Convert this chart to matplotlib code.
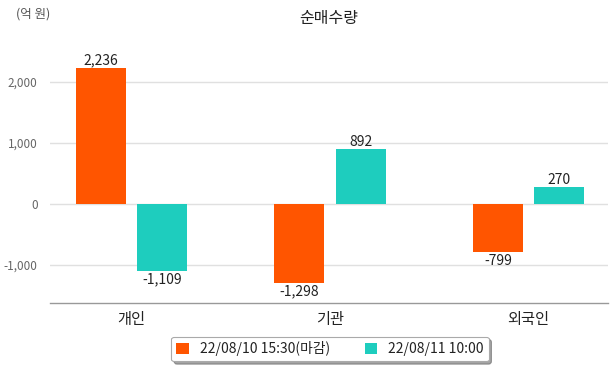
import matplotlib
matplotlib.use("Agg")
import matplotlib.pyplot as plt
import numpy as np

plt.rcParams['font.family'] = ['Noto Sans CJK KR', 'DejaVu Sans']

categories = ['개인', '기관', '외국인']
series_names = ['22/08/10 15:30(마감)', '22/08/11 10:00']
values_0810 = [2236, -1298, -799]
values_0811 = [-1109, 892, 270]
colors = ['#FF5500', '#1ECDBE']
yticks = [-1000, 0, 1000, 2000]

W, H = 615, 368
fig = plt.figure(figsize=(W/100, H/100), dpi=100)
left, right, top, bottom = 50, 608, 40, 303
ax = fig.add_axes([left/W, 1-bottom/H, (right-left)/W, (bottom-top)/H])

x = np.arange(len(categories))
bw = 0.252
off = 0.154
for vals, c, sign, name in [(values_0810, colors[0], -1, series_names[0]), (values_0811, colors[1], 1, series_names[1])]:
    ax.bar(x + sign*off, vals, width=bw, color=c, label=name, zorder=3)
    for xi, v in zip(x + sign*off, vals):
        ax.annotate(f'{v:,}', (xi, v), xytext=(0, 0 if v >= 0 else -1), textcoords='offset points',
                    ha='center', va='bottom' if v >= 0 else 'top', fontsize=10, color='#222222')

ax.set_xlim(-0.41, 2.40)
ax.set_ylim(-1630, 2690)
ax.set_yticks(yticks)
ax.set_yticklabels([f'{t:,}' for t in yticks], color='#666666', fontsize=8.5)
ax.set_xticks(x)
ax.set_xticklabels(categories, fontsize=11, color='#222222')
ax.tick_params(axis='both', length=0)
ax.tick_params(axis='y', pad=9)
ax.tick_params(axis='x', pad=6)
ax.grid(axis='y', color='#e0e0e0', linewidth=1, zorder=0)
for s in ['top', 'right', 'left']:
    ax.spines[s].set_visible(False)
ax.spines['bottom'].set_color('#999999')
ax.spines['bottom'].set_linewidth(1)

fig.text(329/W, 1-18/H, '순매수량', ha='center', va='center', fontsize=11.5, color='#222222')
fig.text(16/W, 1-14/H, '(억 원)', ha='left', va='center', fontsize=9, color='#555555')

leg = fig.legend(loc='center', bbox_to_anchor=(330/W, 1-349/H), ncol=2, fontsize=10,
                 frameon=True, fancybox=True, shadow=True, handlelength=0.9, handleheight=0.9,
                 columnspacing=2.5, handletextpad=0.8, borderpad=0.35, edgecolor='#aaaaaa')
leg.get_frame().set_linewidth(0.8)
for t in leg.get_texts():
    t.set_color('#222222')

fig.savefig('out.png', dpi=100)
